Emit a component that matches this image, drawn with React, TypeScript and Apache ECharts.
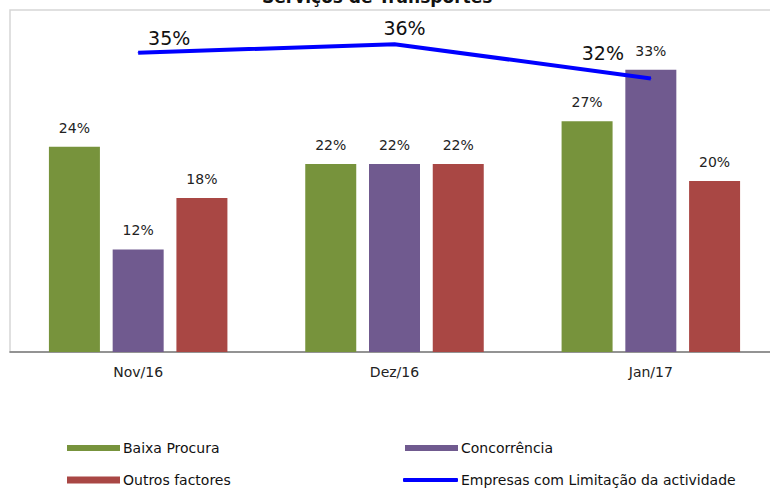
import React, { useEffect, useRef } from "react";
import * as echarts from "echarts";

const months = ["Nov/16", "Dez/16", "Jan/17"];
const baixaProcura = [24, 22, 27];
const concorrencia = [12, 22, 33];
const outrosFactores = [18, 22, 20];
const empresasLimitacao = [35, 36, 32];
// where each line label sits relative to its point
const lineLabelOffsets = [
  [31, 0],
  [10, -1],
  [-48, -10],
];
const chartTitle = "Serviços de Transportes";

const FONT = "DejaVu Sans";

export default function App() {
  const ref = useRef<HTMLDivElement>(null);

  useEffect(() => {
    if (!ref.current) return;
    document.body.style.margin = "0";
    document.body.style.overflow = "hidden";
    const chart = echarts.init(ref.current, null, { renderer: "svg" });

    const barLabel = {
      show: true,
      position: "top" as const,
      distance: 12,
      formatter: "{c}%",
      fontFamily: FONT,
      fontSize: 14,
      color: "#222",
    };

    const legendBase = {
      orient: "horizontal" as const,
      padding: 0,
      itemWidth: 53,
      itemGap: 0,
      textStyle: { fontFamily: FONT, fontSize: 14, color: "#111", padding: [0, 0, 0, -2] },
      selectedMode: false as const,
    };

    chart.setOption({
      animation: false,
      backgroundColor: "#ffffff",
      // title sits mostly above the top edge of the chart
      graphic: [
        {
          type: "text",
          x: 262,
          y: 5,
          z: 10,
          style: {
            text: chartTitle,
            fontFamily: FONT,
            fontSize: 17,
            fontWeight: "bold",
            fill: "#111",
            verticalAlign: "bottom",
          },
        },
      ],
      grid: {
        left: 10,
        top: 10,
        right: 1,
        bottom: 137,
        show: true,
        borderColor: "#d6d6d6",
        borderWidth: 1.5,
        backgroundColor: "#ffffff",
      },
      legend: [
        { ...legendBase, left: 67, top: 441, itemHeight: 6, data: [{ name: "Baixa Procura", icon: "rect" }] },
        { ...legendBase, left: 405, top: 441, itemHeight: 6, data: [{ name: "Concorrência", icon: "rect" }] },
        { ...legendBase, left: 67, top: 473, itemHeight: 7, data: [{ name: "Outros factores", icon: "rect" }] },
        {
          ...legendBase,
          left: 403,
          top: 473,
          itemWidth: 55,
          itemHeight: 4,
          data: [
            {
              name: "Empresas com Limitação da actividade",
              icon: "roundRect",
              itemStyle: { color: "#0000ff", borderWidth: 0 },
            },
          ],
        },
      ],
      xAxis: {
        type: "category",
        data: months,
        axisLine: { lineStyle: { color: "#7a7a7a", width: 1.5 } },
        axisTick: { show: false },
        axisLabel: { fontFamily: FONT, fontSize: 14, color: "#222", margin: 13 },
      },
      yAxis: {
        type: "value",
        min: 0,
        max: 40,
        show: false,
        splitLine: { show: false },
      },
      series: [
        {
          name: "Baixa Procura",
          type: "bar",
          data: baixaProcura,
          barWidth: 51,
          barGap: "25%",
          itemStyle: { color: "#77933c" },
          label: barLabel,
        },
        {
          name: "Concorrência",
          type: "bar",
          data: concorrencia,
          barWidth: 51,
          barGap: "25%",
          itemStyle: { color: "#705a8f" },
          label: barLabel,
        },
        {
          name: "Outros factores",
          type: "bar",
          data: outrosFactores,
          barWidth: 51,
          barGap: "25%",
          itemStyle: { color: "#a94744" },
          label: barLabel,
        },
        {
          name: "Empresas com Limitação da actividade",
          type: "line",
          z: 5,
          symbol: "circle",
          symbolSize: 1,
          showSymbol: true,
          color: "#0000ff",
          itemStyle: { color: "#0000ff" },
          lineStyle: { color: "#0000ff", width: 4 },
          data: empresasLimitacao.map((v, i) => ({
            value: v,
            label: { offset: lineLabelOffsets[i] },
          })),
          label: {
            show: true,
            position: "top",
            formatter: "{c}%",
            fontFamily: FONT,
            fontSize: 19,
            color: "#111",
          },
        },
      ],
    });

    return () => chart.dispose();
  }, []);

  return <div ref={ref} style={{ width: 780, height: 489 }} />;
}
